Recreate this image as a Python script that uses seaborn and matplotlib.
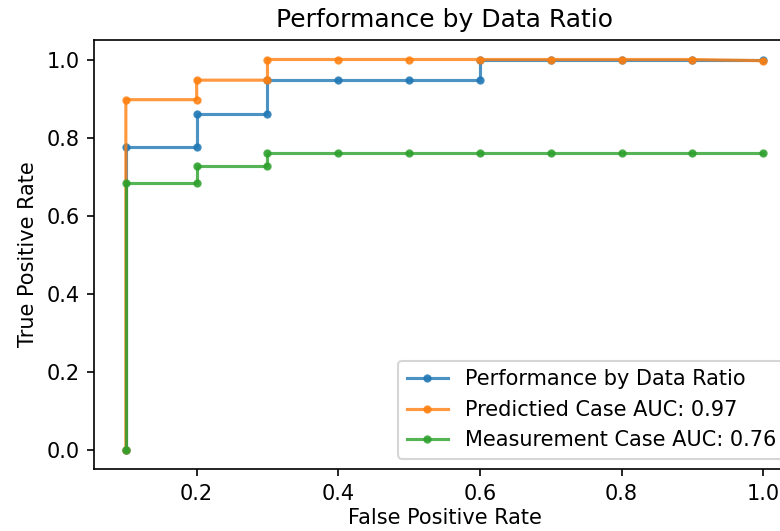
import pandas as pd
import matplotlib
matplotlib.use('Agg')
import matplotlib.pyplot as plt
import seaborn as sns
import numpy as np

# valores (curvas escalonadas tipo ROC)
fpr_ratio = [0.1, 0.1, 0.2, 0.2, 0.3, 0.3, 0.4, 0.5, 0.6, 0.6, 0.7, 0.8, 0.9, 1.0]
tpr_ratio = [0.0, 0.775, 0.775, 0.861, 0.861, 0.948, 0.948, 0.948, 0.948, 1.0, 1.0, 1.0, 1.0, 1.0]

fpr_pred = [0.1, 0.1, 0.2, 0.2, 0.3, 0.3, 0.4, 0.5, 0.6, 0.7, 0.8, 0.9, 1.0]
tpr_pred = [0.0, 0.897, 0.897, 0.947, 0.947, 1.0, 1.0, 1.0, 1.0, 1.0, 1.0, 1.0, 0.997]

fpr_meas = [0.1, 0.1, 0.2, 0.2, 0.3, 0.3, 0.4, 0.5, 0.6, 0.7, 0.8, 0.9, 1.0]
tpr_meas = [0.0, 0.684, 0.684, 0.726, 0.726, 0.761, 0.761, 0.761, 0.761, 0.761, 0.761, 0.761, 0.761]

labels = ['Performance by Data Ratio', 'Predictied Case AUC: 0.97', 'Measurement Case AUC: 0.76']
colors = sns.color_palette('tab10', 3)

# figura a 150 dpi para que las fuentes por defecto tengan la escala del original
fig = plt.figure(figsize=(5.2, 3.54), dpi=150)
ax = fig.add_axes([94 / 780, 62 / 531, 701 / 780, 429 / 531])  # eje derecho queda fuera del recorte

series = [(fpr_ratio, tpr_ratio), (fpr_pred, tpr_pred), (fpr_meas, tpr_meas)]
for (x, y), label, color in zip(series, labels, colors):
    df = pd.DataFrame({'fpr': x, 'tpr': y})
    sns.lineplot(data=df, x='fpr', y='tpr', sort=False, estimator=None, marker='.',
                 markeredgecolor=color, markeredgewidth=1, linewidth=1.5, alpha=0.8,
                 color=color, label=label, ax=ax)

ax.set_title('Performance by Data Ratio', fontsize=12)
ax.set_xlabel('False Positive Rate', fontsize=10, labelpad=2)
ax.set_ylabel('True Positive Rate', fontsize=10)
ax.set_xticks([0.2, 0.4, 0.6, 0.8, 1.0])
ax.set_yticks([0.0, 0.2, 0.4, 0.6, 0.8, 1.0])
ax.legend(loc='lower right', fontsize=10)

fig.savefig('out.png', dpi=150)
